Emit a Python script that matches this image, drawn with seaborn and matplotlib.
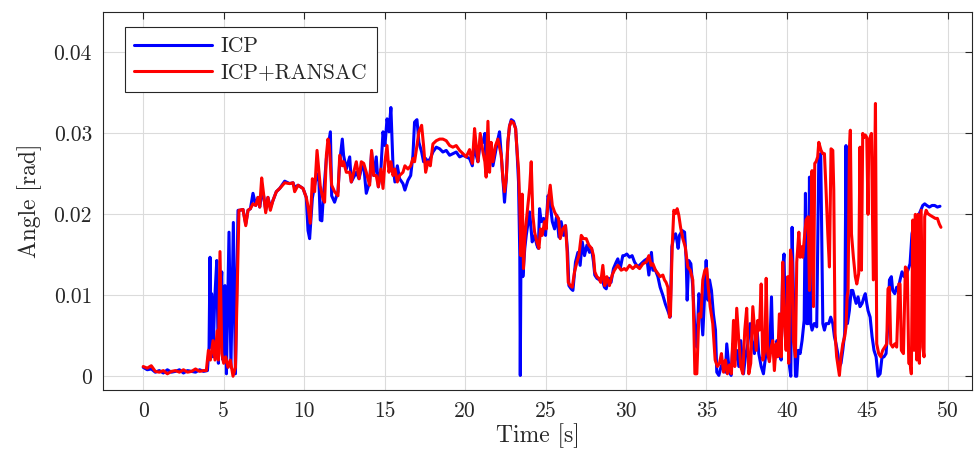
import numpy as np
import pandas as pd
import matplotlib
matplotlib.use("Agg")
import matplotlib.pyplot as plt
import seaborn as sns

# angles are in mrad
icp_time = [
    0.0, 0.25, 0.5, 0.75, 1.0, 1.25, 1.5, 1.75, 2.0, 2.25, 2.5, 2.75, 3.0, 3.25, 3.5, 3.75,
    3.99, 4.09, 4.15, 4.21, 4.25, 4.34, 4.44, 4.57, 4.67, 4.75, 4.88, 4.96, 5.08, 5.17, 5.33, 5.45, 5.60, 5.73, 5.89,
    5.99, 6.2, 6.37, 6.51, 6.66, 6.82, 6.99, 7.13, 7.24, 7.36, 7.48, 7.61, 7.75, 7.9, 8.06, 8.27, 8.48, 8.79, 9.1,
    9.31, 9.41, 9.62, 9.93, 10.13, 10.24, 10.34,
    10.51, 10.65, 10.80, 10.92, 11.0, 11.1, 11.17, 11.38, 11.63, 11.71, 11.89, 12.1, 12.21, 12.37, 12.45,
    12.62, 12.83, 12.93, 13.03, 13.24, 13.41, 13.55, 13.70, 13.86, 14.07, 14.19, 14.32, 14.48, 14.61, 14.77,
    14.9, 15.02, 15.15, 15.27, 15.39, 15.52, 15.64, 15.79, 15.93, 16.14, 16.26, 16.45, 16.62, 16.76, 16.86,
    17.01, 17.13, 17.3, 17.42, 17.55, 17.69, 17.84, 18.0, 18.21, 18.42, 18.62, 18.83, 19.04, 19.24, 19.45,
    19.66, 19.87, 20.07,
    20.28, 20.45, 20.59, 20.69, 20.80, 20.94, 21.11, 21.23, 21.31, 21.42, 21.52, 21.62, 21.73, 21.89, 22.04,
    22.14, 22.25, 22.35, 22.45, 22.56, 22.66, 22.76, 22.87, 23.01, 23.14, 23.22, 23.32, 23.40, 23.43, 23.47,
    23.51, 23.59, 23.71, 23.80, 24.01, 24.17, 24.32, 24.46, 24.55, 24.63, 24.73, 24.88, 25.0, 25.15, 25.25,
    25.42, 25.56, 25.70, 25.83, 25.97, 26.12, 26.24, 26.37, 26.45, 26.59, 26.70, 26.86, 27.01, 27.15, 27.28,
    27.42, 27.57, 27.73, 27.86, 27.98, 28.06, 28.19, 28.35, 28.52, 28.66, 28.77, 28.93, 29.07, 29.22, 29.39,
    29.49, 29.64, 29.80,
    29.90, 30.05, 30.22, 30.38, 30.53, 30.73, 30.94, 31.15, 31.30, 31.42, 31.58, 31.67, 31.83, 31.98, 32.12,
    32.29, 32.45, 32.60, 32.74, 32.85, 32.95, 33.08, 33.16, 33.24, 33.32, 33.49, 33.64, 33.74, 33.80, 33.90,
    34.03, 34.15, 34.28, 34.40, 34.53, 34.65, 34.77, 34.90, 34.98, 35.09, 35.19, 35.31, 35.43, 35.56, 35.64,
    35.77, 35.91, 36.06, 36.18, 36.26, 36.39, 36.53, 36.64, 36.74, 36.88, 37.01, 37.13, 37.30, 37.42, 37.57,
    37.71, 37.84, 37.98, 38.13, 38.25, 38.40, 38.54, 38.67, 38.79, 38.91, 39.04, 39.12, 39.24, 39.37, 39.49,
    39.64, 39.74, 39.82, 39.91, 39.99, 40.07, 40.16, 40.24, 40.32, 40.40, 40.53, 40.61, 40.70, 40.82, 40.94,
    41.07, 41.15, 41.23, 41.32, 41.40, 41.48, 41.56, 41.69, 41.77, 41.85, 41.98, 42.10, 42.23, 42.33, 42.43,
    42.60, 42.72, 42.85, 42.95, 43.05, 43.16, 43.26, 43.36, 43.47, 43.59, 43.67, 43.76, 43.88, 43.99, 44.09,
    44.19, 44.30, 44.42, 44.54, 44.67, 44.79, 44.87, 44.96, 45.04, 45.17, 45.29, 45.41, 45.54, 45.66, 45.79,
    45.91, 46.03, 46.16, 46.28, 46.37, 46.49, 46.57, 46.70, 46.82, 46.90, 47.03, 47.15, 47.28, 47.40, 47.52,
    47.65, 47.77, 47.90, 48.02, 48.23, 48.44, 48.56, 48.69, 48.85, 49.02, 49.18, 49.35, 49.51,
]
icp_mrad = [
    1.1, 0.8, 0.9, 0.5, 0.7, 0.4, 0.8, 0.5, 0.6, 0.8, 0.4, 0.7, 0.6, 0.5, 0.8, 0.6,
    0.7, 3.6, 14.7, 3.6, 10.2, 2.4, 9.4, 14.3, 1.6, 8.1, 12.9, 2.0, 11.2, 0.3, 17.8, 1.1, 19.0, 0.3, 20.5,
    20.5, 20.6, 18.8, 20.5, 20.7, 22.6, 21.1, 22.1, 20.9, 22.5, 22.3, 20.5, 22.1, 20.8, 21.7, 22.8, 23.2, 24.1, 23.8,
    23.9, 23.3, 23.6, 23.2, 22.1, 18.0, 17.0,
    22.0, 23.6, 25.0, 24.0, 19.3, 19.2, 21.5, 26.9, 30.2, 22.3, 21.5, 22.8, 26.5, 29.3, 27.3,
    25.6, 27.1, 24.0, 24.4, 25.2, 24.4, 25.6, 26.0, 22.6, 24.0, 27.7, 24.8, 27.1, 23.4, 25.6,
    30.2, 28.5, 31.8, 30.2, 33.2, 26.0, 24.0, 26.0, 24.4, 23.8, 23.0, 24.2, 24.8, 27.3, 31.4,
    31.7, 28.9, 27.7, 26.5, 26.9, 26.5, 26.9, 27.7, 28.3, 28.1, 27.7, 27.9, 27.3, 27.5, 27.7,
    27.1, 27.3, 27.1,
    26.9, 26.0, 29.3, 27.3, 26.5, 28.9, 28.9, 30.0, 26.0, 27.0, 26.5, 28.1, 26.0, 27.7, 29.3,
    30.2, 27.3, 24.4, 21.5, 24.4, 28.9, 30.9, 31.7, 31.5, 30.6, 28.1, 24.0, 14.9, 0.1, 14.1,
    21.5, 12.3, 15.8, 17.4, 20.3, 16.6, 17.4, 16.2, 15.8, 20.7, 19.1, 19.5, 17.4, 22.3, 21.9,
    19.1, 18.2, 19.9, 17.2, 19.1, 17.4, 18.6, 15.3, 11.2, 10.8, 10.6, 14.1, 15.3, 13.7, 16.6,
    14.9, 16.2, 15.3, 15.8, 14.1, 12.5, 12.1, 11.9, 11.9, 11.0, 10.8, 12.1, 11.6, 13.3, 14.1,
    14.5, 13.3, 14.9,
    14.9, 15.1, 14.7, 14.9, 14.1, 13.5, 13.9, 14.3, 14.5, 12.5, 15.3, 13.1, 13.1, 12.3, 11.0,
    10.0, 8.9, 8.1, 7.3, 16.0, 17.0, 17.6, 16.8, 15.8, 17.4, 18.0, 17.8, 14.3, 9.4, 14.3,
    13.9, 11.0, 5.7, 3.6, 10.2, 8.6, 5.1, 10.6, 14.3, 9.4, 11.9, 10.6, 7.7, 5.7, 0.5,
    0.1, 1.2, 1.8, 0.5, 4.0, 1.2, 0.1, 4.0, 1.8, 3.2, 1.2, 4.4, 0.3, 2.4, 4.0,
    6.5, 4.4, 2.8, 6.3, 2.8, 1.2, 0.3, 2.4, 3.6, 2.0, 9.8, 3.6, 2.0, 4.4, 3.6,
    2.0, 13.5, 15.1, 4.9, 6.5, 4.4, 1.2, 0.0, 18.4, 10.6, 0.0, 0.0, 3.2, 2.8, 4.4,
    6.9, 22.6, 6.5, 6.5, 24.6, 6.5, 5.7, 6.5, 6.5, 6.1, 26.9, 27.5, 6.5, 5.7, 6.5,
    6.5, 7.3, 6.5, 4.9, 4.0, 2.8, 1.2, 1.6, 3.2, 5.3, 28.5, 6.5, 8.1, 10.6, 10.6,
    9.8, 9.0, 9.8, 8.6, 9.0, 9.8, 10.2, 9.0, 8.1, 7.3, 4.9, 3.2, 2.4, 0.0, 0.3,
    2.4, 2.4, 2.8, 6.5, 11.9, 12.3, 10.6, 10.2, 11.0, 10.6, 11.9, 12.9, 12.3, 12.7, 13.1,
    13.9, 17.6, 18.8, 19.7, 20.1, 21.1, 21.3, 21.1, 20.9, 21.1, 21.1, 20.9, 21.0,
]

ransac_time = [
    0.0, 0.25, 0.5, 0.75, 1.0, 1.25, 1.5, 1.75, 2.0, 2.25, 2.5, 2.75, 3.0, 3.25, 3.5, 3.75,
    3.92, 4.05, 4.17, 4.34, 4.46, 4.59, 4.67, 4.77, 4.88, 5.0, 5.12, 5.27, 5.41, 5.58, 5.73, 5.83, 5.95,
    6.2, 6.37, 6.51, 6.66, 6.82, 6.99, 7.13, 7.24, 7.36, 7.48, 7.61, 7.75, 7.9, 8.06, 8.27,
    8.48, 8.79, 9.1, 9.31, 9.41, 9.62, 9.93, 10.13, 10.24, 10.38,
    10.51, 10.65, 10.80, 10.92, 11.0, 11.17, 11.27, 11.38, 11.48, 11.56, 11.71, 11.89, 12.1, 12.21, 12.37,
    12.45, 12.62, 12.83, 12.93, 13.03, 13.24, 13.41, 13.55, 13.70, 13.86, 14.07, 14.19, 14.32, 14.48, 14.61,
    14.77, 14.90, 15.02, 15.15, 15.27, 15.39, 15.52, 15.64, 15.79, 15.93, 16.14, 16.26, 16.45, 16.62, 16.76,
    16.86, 17.01, 17.13, 17.3, 17.42, 17.55, 17.69, 17.84, 18.0, 18.21, 18.42, 18.62, 18.83, 19.04, 19.24,
    19.45, 19.66, 19.87, 20.07,
    20.28, 20.45, 20.59, 20.69, 20.80, 20.94, 21.11, 21.23, 21.31, 21.42, 21.52, 21.62, 21.73, 21.89, 22.04,
    22.14, 22.25, 22.35, 22.45, 22.56, 22.66, 22.76, 22.87, 23.01, 23.14, 23.22, 23.32, 23.40, 23.47, 23.55,
    23.63, 23.71, 23.80, 23.90, 24.01, 24.11, 24.21, 24.32, 24.46, 24.59, 24.69, 24.79, 24.94, 25.04, 25.15,
    25.29, 25.42, 25.56, 25.66, 25.81, 25.91, 26.07, 26.24, 26.33, 26.41, 26.53, 26.66, 26.80, 26.95, 27.07,
    27.22, 27.36, 27.53, 27.69, 27.86, 27.98, 28.06, 28.19, 28.31, 28.43, 28.56, 28.68, 28.81, 28.97, 29.14,
    29.28, 29.49, 29.70, 29.90,
    30.01, 30.22, 30.42, 30.63, 30.84, 31.05, 31.26, 31.42, 31.56, 31.67, 31.83, 31.98, 32.12, 32.29, 32.39,
    32.49, 32.60, 32.70, 32.76, 32.87, 32.97, 33.08, 33.18, 33.28, 33.39, 33.53, 33.68, 33.84, 33.99, 34.15,
    34.28, 34.40, 34.53, 34.65, 34.77, 34.90, 35.02, 35.11, 35.23, 35.39, 35.54, 35.68, 35.81, 35.93, 36.06,
    36.18, 36.30, 36.43, 36.55, 36.68, 36.76, 36.88, 37.01, 37.13, 37.26, 37.38, 37.50, 37.63, 37.75, 37.88,
    37.98, 38.09, 38.19, 38.29, 38.40, 38.50, 38.63, 38.71, 38.81, 38.91, 39.02, 39.12, 39.22, 39.33, 39.43,
    39.53,
    39.64, 39.74, 39.84, 39.95, 40.05, 40.11, 40.22, 40.32, 40.40, 40.53, 40.61, 40.74, 40.82, 40.90, 40.98,
    41.09, 41.19, 41.32, 41.40, 41.50, 41.56, 41.65, 41.73, 41.81, 41.91, 41.98, 42.12, 42.23, 42.33, 42.43,
    42.54, 42.64, 42.74, 42.85, 42.91, 42.99, 43.09, 43.18, 43.26, 43.36, 43.47, 43.59, 43.67, 43.74, 43.80,
    43.88, 43.94, 44.01, 44.13, 44.25, 44.34, 44.46, 44.54, 44.63, 44.71, 44.79, 44.87, 44.96, 45.04, 45.08,
    45.17, 45.25, 45.37, 45.50, 45.58, 45.70, 45.83, 45.95, 46.08, 46.20, 46.28, 46.37, 46.45, 46.57, 46.70,
    46.82, 46.95, 47.03, 47.11, 47.24, 47.36, 47.48, 47.57, 47.65, 47.73, 47.82, 47.90, 47.98, 48.07, 48.15,
    48.23, 48.34, 48.44, 48.52, 48.56, 48.65, 48.75, 48.89, 49.06, 49.22, 49.35, 49.47, 49.57,
]
ransac_mrad = [
    1.2, 1.0, 1.3, 0.6, 0.5, 0.7, 0.3, 0.6, 0.7, 0.5, 0.8, 0.5, 0.6, 0.9, 0.6, 0.7,
    0.7, 3.2, 2.0, 4.4, 2.0, 5.6, 2.0, 15.4, 2.8, 1.6, 2.4, 1.1, 2.0, 0.0, 1.1, 10.2, 20.5,
    20.6, 18.6, 20.5, 20.7, 21.3, 21.1, 22.1, 20.9, 24.5, 22.5, 20.2, 22.1, 20.5, 21.7, 22.8,
    23.2, 23.9, 23.8, 23.9, 22.8, 23.6, 23.2, 22.1, 21.0, 18.9,
    24.4, 22.8, 27.9, 25.2, 23.5, 21.9, 21.5, 27.3, 29.3, 28.5, 23.6, 22.8, 22.3, 27.3, 26.0,
    26.5, 25.2, 25.2, 24.0, 24.8, 26.5, 24.4, 26.5, 26.3, 25.2, 23.6, 27.9, 24.8, 24.8, 23.4,
    25.6, 23.2, 26.5, 28.5, 25.2, 26.5, 24.8, 25.6, 24.0, 24.8, 25.2, 26.0, 25.6, 26.0, 26.9,
    26.5, 28.5, 30.2, 31.0, 28.5, 25.2, 26.5, 26.0, 28.7, 29.1, 29.3, 29.3, 29.1, 28.5, 28.3,
    28.5, 27.9, 27.5, 27.1,
    28.0, 26.3, 30.6, 28.5, 26.5, 30.0, 27.7, 26.5, 24.6, 31.5, 25.2, 28.9, 26.5, 28.5, 29.3,
    28.3, 27.3, 24.4, 22.8, 24.4, 28.9, 30.9, 31.5, 31.3, 30.6, 28.1, 25.6, 21.1, 14.9, 22.5,
    13.3, 17.0, 19.1, 21.1, 23.2, 26.5, 19.9, 17.8, 16.6, 15.8, 18.2, 17.4, 19.1, 18.2, 21.5,
    23.6, 21.1, 20.3, 19.9, 19.5, 17.0, 18.2, 18.6, 15.8, 11.6, 11.2, 11.0, 12.9, 14.1, 14.9,
    17.4, 17.0, 17.0, 16.2, 15.8, 14.9, 12.9, 12.3, 12.1, 11.6, 13.7, 11.2, 12.3, 11.2, 12.5,
    13.1, 13.7, 13.1, 13.3,
    13.1, 13.7, 13.3, 13.7, 13.3, 13.9, 14.1, 14.9, 13.7, 13.9, 13.1, 12.7, 12.3, 12.5, 11.9,
    11.6, 11.0, 7.3, 7.5, 16.0, 20.5, 20.1, 20.7, 19.9, 18.4, 17.0, 16.0, 13.5, 13.1, 11.9,
    0.3, 0.3, 7.7, 7.3, 11.9, 13.1, 13.3, 11.0, 8.6, 6.5, 2.0, 1.2, 1.6, 2.8, 0.5,
    2.0, 0.3, 1.4, 0.3, 6.9, 1.2, 8.4, 4.4, 1.2, 0.3, 5.7, 8.4, 0.3, 1.6, 8.6,
    6.1, 3.2, 6.9, 5.7, 11.4, 2.0, 3.2, 12.1, 2.8, 1.8, 3.6, 4.4, 0.7, 4.0, 2.4,
    7.7,
    2.4, 14.1, 6.9, 3.2, 12.3, 1.6, 15.6, 14.1, 4.4, 2.4, 14.1, 17.8, 14.7, 16.0, 14.7,
    17.2, 19.3, 19.7, 10.6, 18.8, 25.4, 8.6, 26.3, 26.5, 27.1, 28.9, 27.9, 27.5, 27.5, 23.0,
    17.6, 13.5, 28.1, 27.9, 23.0, 5.3, 2.4, 1.2, 0.1, 2.4, 4.0, 4.9, 6.1, 9.8, 10.6,
    28.0, 30.4, 17.6, 14.7, 12.3, 11.4, 12.7, 28.3, 13.1, 30.0, 29.5, 29.8, 29.5, 20.0, 28.7,
    29.5, 30.0, 11.9, 33.7, 4.0, 2.8, 2.4, 3.2, 3.6, 4.0, 10.8, 11.0, 4.0, 3.6, 4.0,
    3.6, 11.4, 11.4, 3.2, 2.8, 13.5, 13.1, 1.6, 1.6, 0.3, 19.3, 3.2, 20.0, 2.0, 20.0,
    1.6, 20.5, 3.6, 2.4, 19.7, 20.5, 20.1, 19.9, 19.7, 19.5, 19.5, 18.8, 18.4,
]

series_names = ["ICP", "ICP+RANSAC"]
series_colors = ["#0000ff", "#ff0000"]
x_ticks = [0, 5, 10, 15, 20, 25, 30, 35, 40, 45, 50]
y_ticks = [0, 0.01, 0.02, 0.03, 0.04]
y_tick_labels = ["0", "0.01", "0.02", "0.03", "0.04"]

assert len(icp_time) == len(icp_mrad)
assert len(ransac_time) == len(ransac_mrad)

icp = pd.DataFrame({"Time": icp_time, "Angle": np.array(icp_mrad) * 1e-3})
ransac = pd.DataFrame({"Time": ransac_time, "Angle": np.array(ransac_mrad) * 1e-3})

sns.set_style("white")
plt.rcParams["font.family"] = "cmr10"
plt.rcParams["mathtext.fontset"] = "cm"
plt.rcParams["axes.formatter.use_mathtext"] = True
plt.rcParams["axes.unicode_minus"] = False

ink = (0.15, 0.15, 0.15)
fig = plt.figure(figsize=(9.74, 4.57), dpi=100)
ax = fig.add_axes([103 / 974, 1 - 390 / 457, 869 / 974, 378 / 457])

for df, name, col in zip([icp, ransac], series_names, series_colors):
    sns.lineplot(data=df, x="Time", y="Angle", color=col, linewidth=2.2,
                 label=name, ax=ax, estimator=None, sort=False)

ax.set_xlim(-2.5, 51.5)
ax.set_ylim(-0.0017, 0.045)
ax.set_xticks(x_ticks)
ax.set_xticklabels([str(v) for v in x_ticks])
ax.set_yticks(y_ticks)
ax.set_yticklabels(y_tick_labels)
ax.grid(True, color=(0.86, 0.86, 0.86), linewidth=0.8)
ax.set_axisbelow(True)
ax.tick_params(direction="in", length=5, width=0.8, top=True, right=True,
               colors=ink, labelsize=15.5, pad=8)
for sp in ax.spines.values():
    sp.set_color(ink)
    sp.set_linewidth(0.8)

ax.set_xlabel("Time [s]", fontsize=17, color=ink, labelpad=2)
ax.set_ylabel("Angle [rad]", fontsize=17, color=ink, labelpad=8)

leg = ax.legend(loc="upper left", bbox_to_anchor=(0.025, 0.96), borderaxespad=0,
                fontsize=15.5, handlelength=3.6, handletextpad=0.4,
                fancybox=False, framealpha=1, edgecolor=ink,
                borderpad=0.45, labelspacing=0.3)
leg.get_frame().set_linewidth(0.8)
for line in leg.get_lines():
    line.set_linewidth(2.2)

fig.savefig("out.png", dpi=100)
